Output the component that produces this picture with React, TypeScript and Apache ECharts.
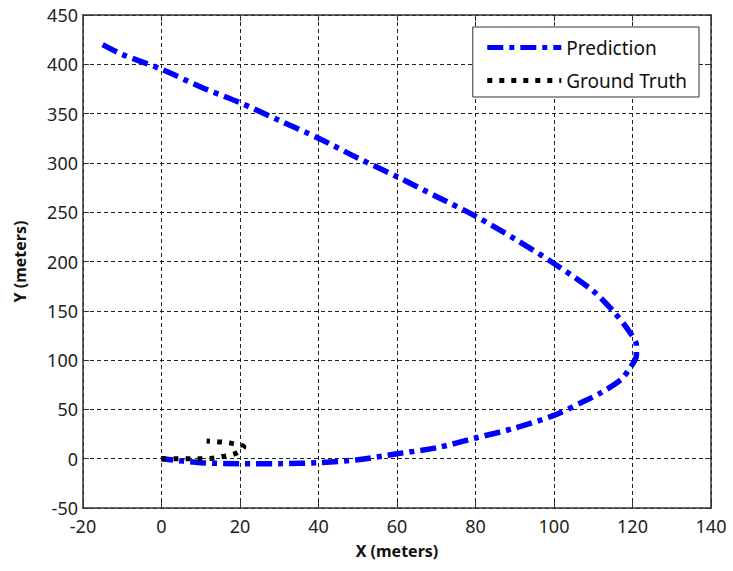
import React, { useEffect, useRef } from "react";
import * as echarts from "echarts";

const predictionX = [-15, -10, 0, 10, 20, 30, 40, 50, 60, 70, 80, 90, 100, 110, 115, 119, 121, 121, 119, 117, 112, 107, 100, 90, 80, 70, 60, 50, 40, 30, 20, 10, 0];
const predictionY = [420, 410, 395, 377, 361, 343, 325, 305, 286, 266, 246, 223, 198, 170, 150, 130, 115, 105, 90, 80, 67, 57, 44, 31, 21, 11, 5, -1, -4, -5, -5, -4, 0];

const truthX = [0, 4, 7, 10, 13, 16, 19, 21, 18, 15, 11.5];
const truthY = [0, 0, 0, 0, 0.5, 2.5, 5.5, 12, 15.5, 17, 18];

const xTicks = { min: -20, max: 140, interval: 20 };
const yTicks = { min: -50, max: 450, interval: 50 };

const FONT = "Noto Sans";

export default function App() {
  const ref = useRef<HTMLDivElement>(null);
  useEffect(() => {
    const chart = echarts.init(ref.current!, null, { renderer: "svg" });
    const pred = predictionX.map((x, i) => [x, predictionY[i]]);
    const truth = truthX.map((x, i) => [x, truthY[i]]);
    const axisLine = { show: true, onZero: false, lineStyle: { color: "#333", width: 1.5 } };
    const splitLine = { show: true, lineStyle: { color: "#222", type: [4, 3], width: 1 } };
    const tick = { show: true, inside: true, length: 6, lineStyle: { color: "#333" } };
    chart.setOption({
      animation: false,
      backgroundColor: "#fff",
      grid: { left: 83, right: 22, top: 15, bottom: 63, containLabel: false },
      legend: {
        orient: "vertical",
        right: 34,
        top: 27,
        padding: [11, 12, 7, 12],
        itemGap: 14,
        itemWidth: 74,
        itemHeight: 10,
        backgroundColor: "#fff",
        borderColor: "#333",
        borderWidth: 1,
        itemStyle: { opacity: 0 },
        lineStyle: { width: 5 },
        textStyle: { fontFamily: FONT, fontSize: 19, color: "#111" },
        data: ["Prediction", "Ground Truth"],
      },
      xAxis: [
        {
          type: "value",
          ...xTicks,
          name: "X (meters)",
          nameLocation: "middle",
          nameGap: 35,
          nameTextStyle: { fontFamily: FONT, fontSize: 16, fontWeight: "bold", color: "#111" },
          axisLine,
          axisTick: tick,
          axisLabel: { fontFamily: FONT, fontSize: 18, color: "#222", margin: 9 },
          splitLine,
        },
        {
          type: "value",
          position: "top",
          ...xTicks,
          axisLine,
          axisTick: tick,
          axisLabel: { show: false },
          splitLine: { show: false },
        },
      ],
      yAxis: [
        {
          type: "value",
          ...yTicks,
          name: "Y (meters)",
          nameLocation: "middle",
          nameGap: 55,
          nameTextStyle: { fontFamily: FONT, fontSize: 16, fontWeight: "bold", color: "#111" },
          axisLine,
          axisTick: tick,
          axisLabel: { fontFamily: FONT, fontSize: 18, color: "#222", margin: 5 },
          splitLine,
        },
        {
          type: "value",
          position: "right",
          ...yTicks,
          axisLine,
          axisTick: tick,
          axisLabel: { show: false },
          splitLine: { show: false },
        },
      ],
      series: [
        {
          name: "Prediction",
          type: "line",
          data: pred,
          smooth: 0.3,
          symbol: "none",
          color: "#0000ff",
          lineStyle: { color: "#0000ff", width: 5.5, type: [16, 6, 5, 6] },
        },
        {
          name: "Ground Truth",
          type: "line",
          data: truth,
          smooth: 0.3,
          symbol: "none",
          color: "#000",
          lineStyle: { color: "#000", width: 5, type: [5, 7] },
        },
      ],
    });
    return () => chart.dispose();
  }, []);
  return <div ref={ref} style={{ width: 733, height: 571, position: "absolute", left: 0, top: 0 }} />;
}
